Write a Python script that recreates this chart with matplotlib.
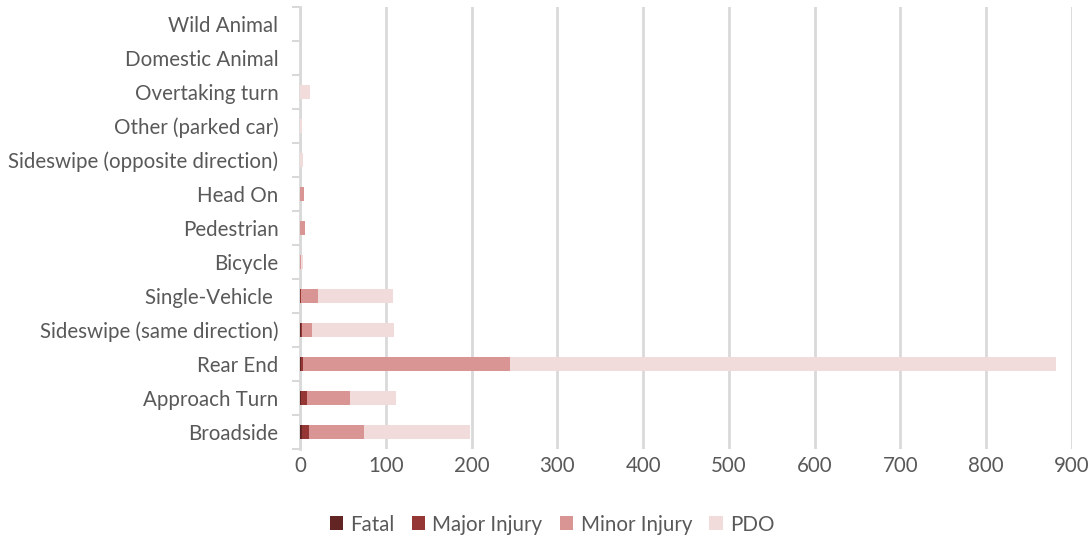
import matplotlib
matplotlib.use("Agg")
import matplotlib.pyplot as plt
import numpy as np

categories = ["Broadside", "Approach Turn", "Rear End", "Sideswipe (same direction)",
              "Single-Vehicle ", "Bicycle", "Pedestrian", "Head On",
              "Sideswipe (opposite direction)", "Other (parked car)", "Overtaking turn",
              "Domestic Animal", "Wild Animal"]
fatal = [2, 1, 1, 1, 0, 0, 0, 0, 0, 0, 0, 0, 0]
major = [8, 7, 2, 1, 1, 0, 0, 0, 0, 0, 0, 0, 0]
minor = [65, 50, 242, 12, 20, 1, 6, 5, 0, 0, 0, 0, 0]
pdo = [123, 54, 636, 96, 88, 3, 0, 0, 4, 2, 12, 0, 0]
series_names = ["Fatal", "Major Injury", "Minor Injury", "PDO"]
colors = ["#632523", "#953735", "#D99594", "#F2DCDB"]

plt.rcParams['font.family'] = ['Lato', 'DejaVu Sans']

fig = plt.figure(figsize=(10.91, 5.38), dpi=100)
ax = fig.add_axes([300/1091, (538-449)/538, (1072-300)/1091, (449-7)/538])

y = np.arange(len(categories))
left = np.zeros(len(categories))
for name, vals, c in zip(series_names, [fatal, major, minor, pdo], colors):
    ax.barh(y, vals, left=left, height=0.4, color=c, label=name, zorder=3)
    left += np.array(vals)

fs = 14.8
ax.set_xlim(0, 900)
ax.set_ylim(-0.5, len(categories) - 0.5)
ax.set_xticks(np.arange(0, 901, 100))
ax.set_yticks(y)
ax.set_yticklabels(categories)
ax.set_yticks(np.arange(-0.5, len(categories), 1), minor=True)
ax.tick_params(axis='y', which='major', length=0, pad=15.5, labelsize=fs, labelcolor="#595959")
ax.tick_params(axis='y', which='minor', length=6, width=1.5, color="#d9d9d9")
ax.tick_params(axis='x', length=0, pad=5, labelsize=fs, labelcolor="#595959")
ax.grid(axis='x', color="#d9d9d9", linewidth=2, zorder=0)
for s in ["top", "right", "bottom"]:
    ax.spines[s].set_visible(False)
ax.spines["left"].set_color("#d9d9d9")
ax.spines["left"].set_linewidth(2)

fig.legend(loc="lower center", bbox_to_anchor=(0.506, -0.028), ncol=4, frameon=False,
           fontsize=fs, handlelength=0.65, handleheight=0.65, columnspacing=0.85,
           handletextpad=0.35, labelcolor="#595959")

fig.savefig("out.png", dpi=100)
